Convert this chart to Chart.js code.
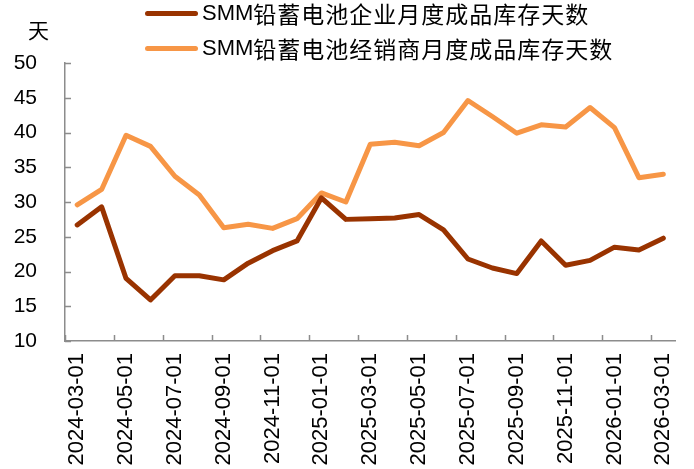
<!DOCTYPE html>
<html>
<head>
<meta charset="utf-8">
<script src="https://cdn.jsdelivr.net/npm/chart.js@4.4.1/dist/chart.umd.min.js"></script>
<style>
  html, body { margin: 0; padding: 0; background: #fff; }
  #wrap { position: relative; width: 694px; height: 469px; }
  #legend { position: absolute; left: 145px; top: 0; color: #000; }
  .row { position: absolute; left: 0; height: 26px; white-space: nowrap; display: flex; align-items: center; }
  .swatch { display: inline-block; width: 53px; height: 5px; border-radius: 3px; margin-right: 4px; }
  .lat { font-family: "Liberation Sans", sans-serif; font-size: 22px; }
  .cjk { font-family: "Noto Sans CJK SC", sans-serif; font-size: 23px; letter-spacing: 1px; }
  #unit { position: absolute; left: 28px; top: 14px; font-family: "Noto Sans CJK SC", sans-serif; font-size: 21px; color: #000; }
</style>
</head>
<body>
<div id="wrap">
  <canvas id="chart" width="694" height="469"></canvas>
  <div id="unit">天</div>
  <div id="legend"></div>
</div>
<script>
// 月份
const months = ['2024-03-01','2024-04-01','2024-05-01','2024-06-01','2024-07-01','2024-08-01',
  '2024-09-01','2024-10-01','2024-11-01','2024-12-01','2025-01-01','2025-02-01','2025-03-01',
  '2025-04-01','2025-05-01','2025-06-01','2025-07-01','2025-08-01','2025-09-01','2025-10-01',
  '2025-11-01','2025-12-01','2026-01-01','2026-02-01','2026-03-01'];

// 企业成品库存天数
const enterpriseDays = [26.7, 29.3, 19.0, 15.9, 19.4, 19.4, 18.8, 21.2, 23.0, 24.4, 30.6, 27.5, 27.6,
  27.7, 28.2, 26.0, 21.8, 20.5, 19.7, 24.4, 20.9, 21.6, 23.5, 23.1, 24.8];

// 经销商成品库存天数
const dealerDays = [29.6, 31.8, 39.6, 38.0, 33.7, 31.0, 26.3, 26.8, 26.2, 27.6, 31.3, 30.0, 38.3,
  38.6, 38.1, 40.0, 44.6, 42.3, 39.9, 41.1, 40.8, 43.6, 40.7, 33.5, 34.0];

const seriesNames = ['SMM铅蓄电池企业月度成品库存天数', 'SMM铅蓄电池经销商月度成品库存天数'];
const seriesColors = ['#993300', '#F79646'];

const axisColor = '#8c8c8c';

// 图例
const legendEl = document.getElementById('legend');
seriesNames.forEach((name, i) => {
    const row = document.createElement('div');
    row.className = 'row';
    row.style.top = (i === 0 ? 0 : 35) + 'px';
    row.innerHTML = '<span class="swatch" style="background:' + seriesColors[i] + '"></span>' +
        '<span class="lat">' + name.slice(0, 3) + '</span><span class="cjk">' + name.slice(3) + '</span>';
    legendEl.appendChild(row);
});

// 坐标轴内侧刻度线
const innerTicks = {
    id: 'innerTicks',
    beforeDatasetsDraw(chart) {
        const ctx = chart.ctx;
        const x = chart.scales.x;
        const y = chart.scales.y;
        ctx.save();
        ctx.strokeStyle = axisColor;
        ctx.lineWidth = 1.5;
        ctx.beginPath();
        y.ticks.forEach(t => {
            const py = Math.round(y.getPixelForValue(t.value)) + 0.5;
            ctx.moveTo(x.left, py);
            ctx.lineTo(x.left + 6, py);
        });
        const step = x.width / months.length;
        for (let i = 0; i < months.length; i += 2) {
            const px = Math.round(x.left + i * step) + 0.5;
            ctx.moveTo(px, y.bottom);
            ctx.lineTo(px, y.bottom - 6);
        }
        ctx.stroke();
        ctx.restore();
    }
};

new Chart(document.getElementById('chart').getContext('2d'), {
    type: 'line',
    data: {
        labels: months,
        datasets: [
            {
                label: seriesNames[0],
                data: enterpriseDays,
                borderColor: seriesColors[0],
                backgroundColor: seriesColors[0],
                borderWidth: 5,
                pointRadius: 0,
                tension: 0,
                borderCapStyle: 'round',
                borderJoinStyle: 'round'
            },
            {
                label: seriesNames[1],
                data: dealerDays,
                borderColor: seriesColors[1],
                backgroundColor: seriesColors[1],
                borderWidth: 5,
                pointRadius: 0,
                tension: 0,
                borderCapStyle: 'round',
                borderJoinStyle: 'round'
            }
        ]
    },
    options: {
        responsive: false,
        animation: false,
        layout: { padding: { top: 63, right: 14, left: 0, bottom: 0 } },
        plugins: {
            legend: { display: false },
            tooltip: { enabled: false }
        },
        scales: {
            x: {
                offset: true,
                grid: { display: false },
                border: { display: true, color: axisColor, width: 1.5 },
                ticks: {
                    autoSkip: false,
                    minRotation: 90,
                    maxRotation: 90,
                    padding: 4,
                    color: '#000',
                    font: { family: 'Liberation Sans', size: 22 },
                    callback: (v, i) => (i % 2 === 0 ? months[i] : null)
                },
                afterFit: (scale) => { scale.height = 128; }
            },
            y: {
                min: 10,
                max: 50,
                grid: { display: false },
                border: { display: true, color: axisColor, width: 1.5 },
                ticks: {
                    stepSize: 5,
                    padding: 20,
                    color: '#000',
                    font: { family: 'Liberation Sans', size: 21 }
                },
                afterFit: (scale) => { scale.width = 65; }
            }
        }
    },
    plugins: [innerTicks]
});
</script>
</body>
</html>
